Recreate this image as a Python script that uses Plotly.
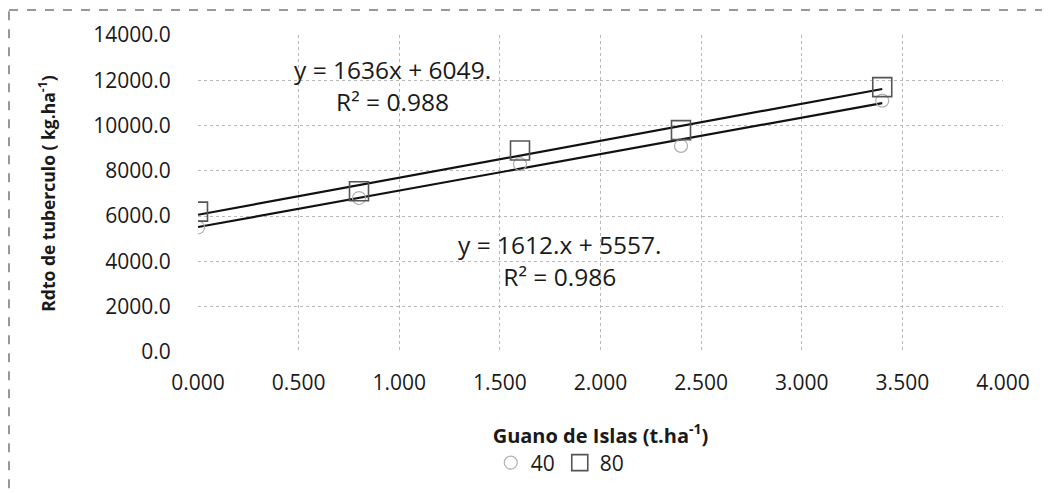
import numpy as np
import plotly.graph_objects as go

# Data
guano = [0.0, 0.8, 1.6, 2.4, 3.4]          # Guano de Islas (t.ha-1)
rdto_40 = [5500, 6800, 8300, 9100, 11100]   # series "40"
rdto_80 = [6200, 7100, 8900, 9800, 11700]   # series "80"
eq_40 = "y = 1612.x + 5557.<br>R² = 0.986"
eq_80 = "y = 1636x + 6049.<br>R² = 0.988"

FONT = "Open Sans"
TXT = "#1a1a1a"

fig = go.Figure()

# trendlines (linear fits of each series)
xs = np.array([min(guano), max(guano)])
for ys in (rdto_80, rdto_40):
    m, b = np.polyfit(guano, ys, 1)
    fig.add_trace(go.Scatter(x=xs, y=m * xs + b, mode="lines",
                             line=dict(color="#111111", width=2.2),
                             showlegend=False, hoverinfo="skip"))

fig.add_trace(go.Scatter(x=guano, y=rdto_40, mode="markers", name="40",
                         marker=dict(symbol="circle-open", size=13,
                                     color="#b0b0b0", line=dict(width=1.2, color="#b0b0b0"))))
fig.add_trace(go.Scatter(x=guano, y=rdto_80, mode="markers", name="80",
                         marker=dict(symbol="square-open", size=19,
                                     color="#555555", line=dict(width=1.6, color="#555555"))))

fig.add_annotation(x=0.965, y=11750, xref="x", yref="y", text=eq_80, showarrow=False,
                   font=dict(family=FONT, size=24.5, color=TXT), align="center")
fig.add_annotation(x=1.80, y=4050, xref="x", yref="y", text=eq_40, showarrow=False,
                   font=dict(family=FONT, size=24.5, color=TXT), align="center")

grid = dict(showgrid=True, gridcolor="#b8b8b8", griddash="dot", gridwidth=1)

fig.update_xaxes(range=[0, 4], dtick=0.5, tickformat=".3f", **grid,
                 zeroline=False, showline=False,
                 ticks="outside", ticklen=12, tickcolor="rgba(0,0,0,0)",
                 tickfont=dict(family=FONT, size=21, color=TXT),
                 title=dict(text="<b>Guano de Islas (t.ha<sup>-1</sup>)</b>", standoff=33,
                            font=dict(family=FONT, size=20, color=TXT)))
fig.update_yaxes(range=[0, 14000], dtick=2000, tickformat=".1f", **grid,
                 zeroline=False, showline=False,
                 ticks="outside", ticklen=22, tickcolor="rgba(0,0,0,0)",
                 tickfont=dict(family=FONT, size=21, color=TXT),
                 title=dict(text="<b>Rdto de tuberculo ( kg.ha<sup>-1</sup>)</b>", standoff=33,
                            font=dict(family=FONT, size=17.5, color=TXT)))

# dashed outer border of the scanned chart (top and left edges)
fig.add_shape(type="line", xref="paper", yref="paper", x0=-0.2348, x1=1.2, y0=1.079, y1=1.079,
              line=dict(color="#777777", width=1.5, dash="dash"))
fig.add_shape(type="line", xref="paper", yref="paper", x0=-0.2348, x1=-0.2348, y0=-0.6, y1=1.079,
              line=dict(color="#777777", width=1.5, dash="dash"))

fig.update_layout(
    width=1050, height=493,
    margin=dict(l=190, r=55, t=27, b=149),
    paper_bgcolor="white", plot_bgcolor="white",
    font=dict(family=FONT, color=TXT),
    legend=dict(orientation="h", x=0.45, xanchor="center", y=-0.35, yanchor="middle",
                font=dict(family=FONT, size=21, color=TXT), itemwidth=30,
                bgcolor="rgba(0,0,0,0)"),
)

fig.write_html("out.html")
